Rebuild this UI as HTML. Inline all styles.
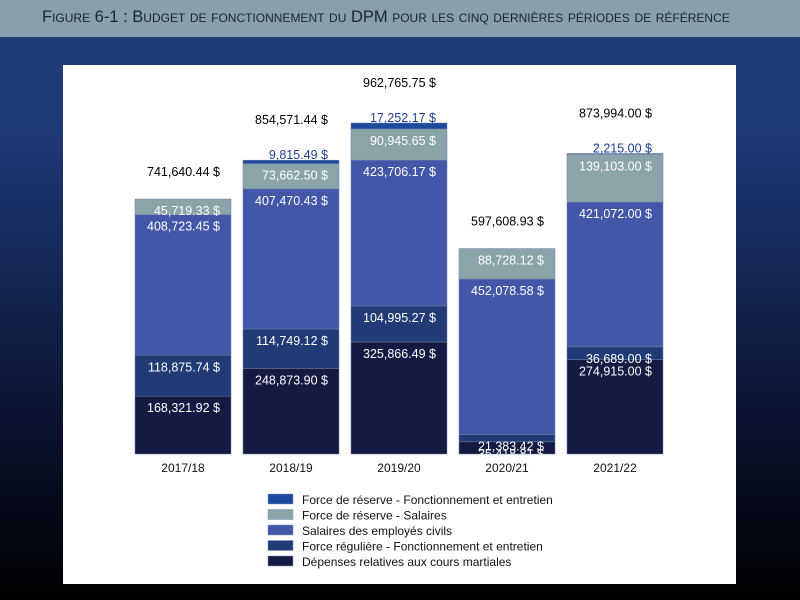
<!DOCTYPE html>
<html><head><meta charset="utf-8"><style>
html,body{margin:0;padding:0}
body{width:800px;height:600px;overflow:hidden;background:linear-gradient(to bottom,#1f3b7a 0px,#1f3b7a 120px,#0a1330 420px,#000 600px);font-family:"Liberation Sans Narrow","Liberation Sans",sans-serif}
#title{position:absolute;left:0;top:0;width:800px;height:37px;background:#87a0ab;border-bottom:1px solid #2a3f70}
#title span{position:absolute;left:42px;top:8px;font-size:16.5px;color:#1a2238;font-variant:small-caps;white-space:nowrap}
#panel{position:absolute;left:63px;top:65px;width:673px;height:519px;background:#fff}
svg{position:absolute;left:0;top:0}
</style></head><body>
<div id="title"><span>Figure 6-1 : Budget de fonctionnement du DPM pour les cinq dernières périodes de référence</span></div>
<div id="panel"></div>
<svg id="chart" width="800" height="600"></svg>
<script>
const categories=["2017/18","2018/19","2019/20","2020/21","2021/22"];
const courts=[168321.92,248873.90,325866.49,35418.81,274915.00];
const regOM=[118875.74,114749.12,104995.27,21383.42,36689.00];
const civil=[408723.45,407470.43,423706.17,452078.58,421072.00];
const resSal=[45719.33,73662.50,90945.65,88728.12,139103.00];
const resOM=[0,9815.49,17252.17,0,2215.00];
const totals=[741640.44,854571.44,962765.75,597608.93,873994.00];
const seriesNames=["Force de réserve - Fonctionnement et entretien","Force de réserve - Salaires","Salaires des employés civils","Force régulière - Fonctionnement et entretien","Dépenses relatives aux cours martiales"];
const NS="http://www.w3.org/2000/svg";
const svg=document.getElementById('chart');
const base=454, scale=331/962765.75;
const y=v=>base-v*scale;
const x0=135,pitch=108,bw=96;
const xOf=i=>x0+i*pitch;
function fmt(v){return v.toLocaleString('en-US',{minimumFractionDigits:2,maximumFractionDigits:2})+' $';}
function mk(tag,attrs){const e=document.createElementNS(NS,tag);for(const k in attrs)e.setAttribute(k,attrs[k]);svg.appendChild(e);return e;}
const defs=document.createElementNS(NS,'defs');svg.appendChild(defs);
defs.innerHTML='<clipPath id="pc"><rect x="0" y="0" width="800" height="454"/></clipPath>';
const stack=[courts,regOM,civil,resSal,resOM];
const colors=["#141a42","#213b76","#4456a8","#8aa4aa","#1e4a9e"];
const names=["court","regular-om","civilian","reserve-salaries","reserve-om"];
const FS=12.5;
for(let i=0;i<categories.length;i++){
  let cum=0;const xl=xOf(i);
  for(let s=0;s<stack.length;s++){
    const v=stack[s][i];if(!v){continue;}
    const top=y(cum+v),bot=y(cum);
    const r=mk('rect',{x:xl,y:top,width:bw,height:bot-top,fill:colors[s],stroke:'#6f7fa8','stroke-width':0.5});
    
    
    if(s<4){
      const t=mk('text',{x:xl+bw-11,y:top+16,'text-anchor':'end','font-size':FS,fill:'#fff','clip-path':'url(#pc)'});
      t.textContent=fmt(v);
      
      
    }else{
      const t=mk('text',{x:xl+bw-11,y:top-1,'text-anchor':'end','font-size':FS,fill:'#1b3f9a'});
      t.textContent=fmt(v);
      
      
    }
    cum+=v;
  }
  const tt=mk('text',{x:xl+bw-11,y:y(totals[i])-(resOM[i]?36:23),'text-anchor':'end','font-size':FS,fill:'#000'});
  tt.textContent=fmt(totals[i]);
  
  
  const c=mk('text',{x:xl+bw/2,y:472,'text-anchor':'middle','font-size':12,fill:'#111'});
  c.textContent=categories[i];
  
  
}
const legColors=["#1e4a9e","#8aa4aa","#4456a8","#213b76","#141a42"];
for(let k=0;k<seriesNames.length;k++){
  const yy=494+k*15.5;
  const r=mk('rect',{x:268,y:yy,width:25,height:10,fill:legColors[k],stroke:'#8090b8','stroke-width':0.5});
  
  
  const t=mk('text',{x:302,y:yy+10,'font-size':12,fill:'#111'});
  t.textContent=seriesNames[k];
  
  
}
</script>
</body></html>
